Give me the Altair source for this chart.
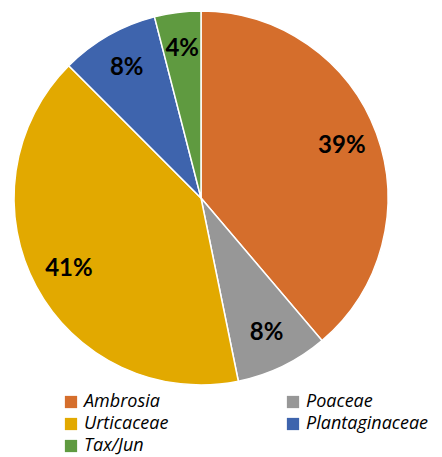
import altair as alt
import pandas as pd

categories = ["Ambrosia", "Poaceae", "Urticaceae", "Plantaginaceae", "Tax/Jun"]
values = [38.8, 8.0, 40.7, 8.5, 4.0]
labels = ["39%", "8%", "41%", "8%", "4%"]
colors = ["#D56E2C", "#979797", "#E2A900", "#3E64AD", "#5F9A40"]
legend_order = ["Ambrosia", "Urticaceae", "Tax/Jun", "Poaceae", "Plantaginaceae"]

df = pd.DataFrame({
    "cat": categories,
    "val": values,
    "label": labels,
    "order": list(range(len(categories))),
})

color_of = dict(zip(categories, colors))

base = alt.Chart(df).encode(
    theta=alt.Theta("val:Q", stack=True),
    order=alt.Order("order:Q"),
)

arcs = base.mark_arc(radius=187, stroke="white", strokeWidth=1.5).encode(
    color=alt.Color(
        "cat:N",
        scale=alt.Scale(domain=legend_order, range=[color_of[c] for c in legend_order]),
        legend=alt.Legend(
            title=None,
            orient="none",
            legendX=54,
            legendY=385,
            columns=2,
            columnPadding=115,
            rowPadding=4,
            symbolType="square",
            symbolSize=150,
            symbolStrokeWidth=0,
            labelFont="Open Sans",
            labelFontStyle="italic",
            labelFontSize=18,
            labelColor="#000000",
            labelLimit=250,
        ),
    )
)

text = base.mark_text(
    radius=150, font="Lato", fontWeight="bold", fontSize=24, color="black"
).encode(text="label:N")

chart = (arcs + text).properties(width=386, height=380, padding=0).configure_view(stroke=None)

chart.save("out.html", embed_options={"renderer": "svg", "actions": False})
